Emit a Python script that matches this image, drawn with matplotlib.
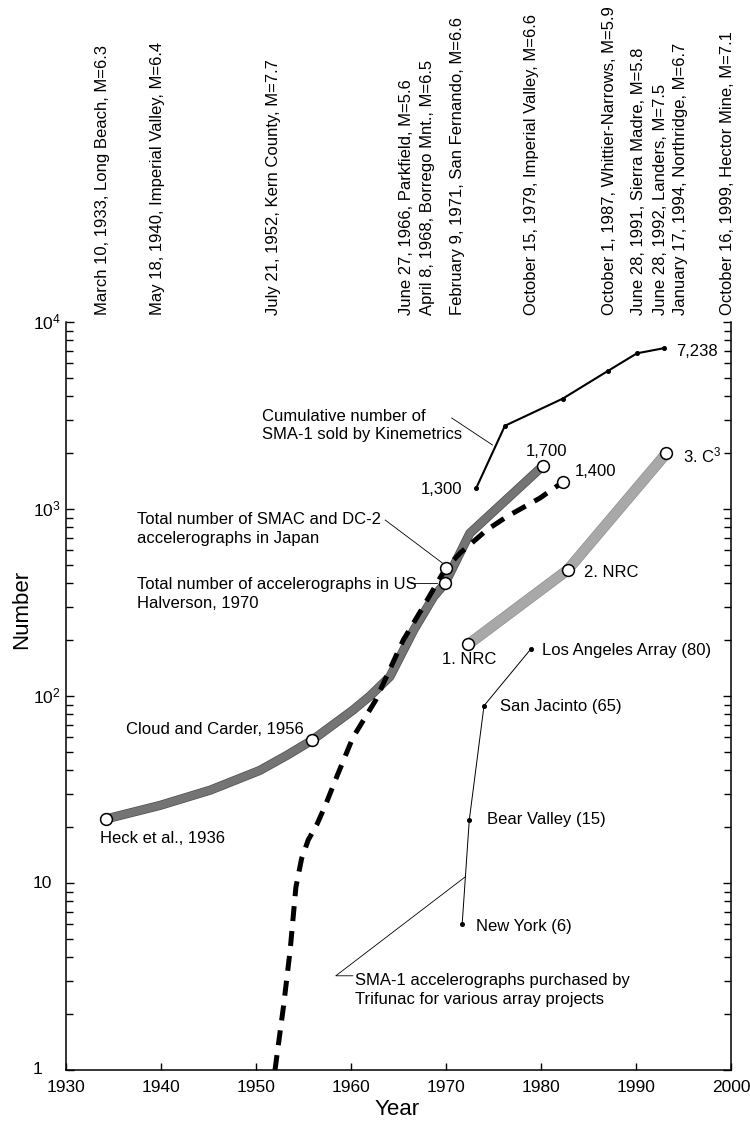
import matplotlib
matplotlib.use("Agg")
import matplotlib.pyplot as plt
import matplotlib.patheffects as pe
import matplotlib.transforms as mtransforms
from matplotlib.ticker import LogLocator, NullFormatter, FixedLocator

plt.rcParams['font.family'] = ['Liberation Sans', 'DejaVu Sans']
plt.rcParams['mathtext.fontset'] = 'custom'
plt.rcParams['mathtext.rm'] = 'Liberation Sans'
plt.rcParams['mathtext.it'] = 'Liberation Sans:italic'
plt.rcParams['mathtext.bf'] = 'Liberation Sans:bold'

# ---------------- data ----------------
# Total number of accelerographs in US (dark gray band)
us_year = [1934.2, 1939.9, 1945.2, 1950.4, 1953.2, 1955.9, 1960.2, 1962.0,
           1964.1, 1966.6, 1968.7, 1969.9, 1972.5, 1980.2]
us_count = [22, 26, 31.4, 40, 48, 58, 84, 100, 127, 225, 340, 400, 741, 1700]
us_marked = [0, 5, 11, 13]

# SMAC and DC-2 accelerographs in Japan (dashed)
jp_year = [1952.0, 1952.9, 1953.6, 1954.2, 1954.8, 1955.5, 1956.4, 1957.3,
           1958.5, 1960.2, 1962.6, 1965.5, 1967.6, 1969.97, 1971.5, 1974.3,
           1976.4, 1979.9, 1982.35]
jp_count = [1.0, 2.2, 4.4, 9.5, 13.5, 17, 20.5, 26, 37, 60, 95, 199, 300,
            482, 582, 773, 910, 1145, 1400]
jp_marked = [13, 18]

# Cumulative SMA-1 sold by Kinemetrics
km_year = [1973.2, 1976.2, 1982.3, 1987.1, 1990.1, 1992.9]
km_count = [1300, 2786, 3895, 5496, 6800, 7238]

# NRC / C^3 (light gray band)
nrc_year = [1972.35, 1982.8, 1993.2]
nrc_count = [189, 472, 1986]

# SMA-1 accelerographs purchased by Trifunac (cumulative)
tr_year = [1971.7, 1972.45, 1974.0, 1978.9]
tr_count = [6, 21.7, 88.7, 177.6]

# Earthquakes listed along the top
eq_labels = [
    "March 10, 1933, Long Beach, M=6.3",
    "May 18, 1940, Imperial Valley, M=6.4",
    "July 21, 1952, Kern County, M=7.7",
    "June 27, 1966, Parkfield, M=5.6",
    "April 8, 1968, Borrego Mnt., M=6.5",
    "February 9, 1971, San Fernando, M=6.6",
    "October 15, 1979, Imperial Valley, M=6.6",
    "October 1, 1987, Whittier-Narrows, M=5.9",
    "June 28, 1991, Sierra Madre, M=5.8",
    "June 28, 1992, Landers, M=7.5",
    "January 17, 1994, Northridge, M=6.7",
    "October 16, 1999, Hector Mine, M=7.1",
]
eq_label_year = [1933.8, 1939.6, 1951.8, 1965.8, 1968.1, 1971.2, 1979.0,
                 1987.2, 1990.3, 1992.6, 1994.7, 1999.6]

x_ticks = [1930, 1940, 1950, 1960, 1970, 1980, 1990, 2000]
y_ticks = [1, 10, 100, 1000, 10000]
y_tick_labels = ['1', '10', r'$\mathregular{10^2}$', r'$\mathregular{10^3}$',
                 r'$\mathregular{10^4}$']

# ---------------- figure ----------------
fig = plt.figure(figsize=(7.5, 11.21), dpi=100)
ax = fig.add_axes([66 / 750, 51 / 1121, 665 / 750, 748 / 1121])
ax.set_yscale('log')
ax.set_xlim(1930, 2000)
ax.set_ylim(1, 1e4)

# US band
ax.plot(us_year, us_count, color='#747474', lw=5.6, solid_capstyle='butt',
        solid_joinstyle='round', zorder=2,
        path_effects=[pe.Stroke(linewidth=6.6, foreground='#4f4f4f'), pe.Normal()])
ax.plot([us_year[i] for i in us_marked], [us_count[i] for i in us_marked], 'o',
        mfc='white', mec='black', ms=8.5, mew=1.1, zorder=6)

# NRC band
ax.plot(nrc_year, nrc_count, color='#a8a8a8', lw=7.0, solid_capstyle='butt',
        zorder=2,
        path_effects=[pe.Stroke(linewidth=7.8, foreground='#8a8a8a'), pe.Normal()])
ax.plot(nrc_year, nrc_count, 'o', mfc='white', mec='black', ms=8.5, mew=1.1, zorder=6)

# Japan dashed
ax.plot(jp_year, jp_count, color='black', lw=3.6, ls=(0, (3, 2)),
        dash_capstyle='butt', solid_joinstyle='round', zorder=3)
ax.plot([jp_year[i] for i in jp_marked], [jp_count[i] for i in jp_marked], 'o',
        mfc='white', mec='black', ms=8.5, mew=1.1, zorder=6)

# Kinemetrics
ax.plot(km_year, km_count, color='black', lw=1.5, marker='o', ms=2.6, zorder=4)

# Trifunac
ax.plot(tr_year, tr_count, color='black', lw=0.7, marker='o', ms=2.6, zorder=4)

# ---------------- axes styling ----------------
ax.spines['top'].set_visible(False)
for s in ['left', 'right', 'bottom']:
    ax.spines[s].set_linewidth(1.1)
ax.xaxis.set_major_locator(FixedLocator(x_ticks))
ax.set_xticklabels([str(v) for v in x_ticks])
ax.yaxis.set_major_locator(FixedLocator(y_ticks))
ax.set_yticklabels([''] * len(y_ticks))
ax.yaxis.set_minor_locator(LogLocator(base=10, subs=range(2, 10)))
ax.yaxis.set_minor_formatter(NullFormatter())
ax.tick_params(axis='x', which='major', direction='in', length=5, width=1,
               top=False, bottom=True, labelsize=12.5, pad=7)
ax.tick_params(axis='y', which='both', direction='in', left=True, right=True,
               width=1)
ax.tick_params(axis='y', which='major', length=6)
ax.tick_params(axis='y', which='minor', length=5)

ytrans = mtransforms.blended_transform_factory(ax.transAxes, ax.transData)
for v, lab in zip(y_ticks, y_tick_labels):
    ax.text(-0.0496, v, lab, transform=ytrans, ha='left', va='center',
            fontsize=12.5, clip_on=False)

ax.text(0.498, -0.053, 'Year', transform=ax.transAxes, ha='center', va='center',
        fontsize=16)
ax.text(-0.066, 0.616, 'Number', transform=ax.transAxes, ha='center', va='center',
        rotation=90, fontsize=16)

# ---------------- top earthquake labels ----------------
for lab, yr in zip(eq_labels, eq_label_year):
    ax.annotate(lab, xy=(yr, 1.0), xycoords=('data', 'axes fraction'),
                xytext=(0, 5), textcoords='offset points', rotation=90,
                ha='center', va='bottom', fontsize=12.0, annotation_clip=False)

# ---------------- annotations ----------------
fs = 12
ax.text(1971.7, 1264, '1,300', ha='right', va='center', fontsize=fs)
ax.text(1980.6, 2018, '1,700', ha='center', va='center', fontsize=fs)
ax.text(1983.6, 1578, '1,400', ha='left', va='center', fontsize=fs)
ax.text(1994.2, 6918, '7,238', ha='left', va='center', fontsize=fs)
ax.text(1994.9, 1945, r'3. C$^{\mathregular{3}}$', ha='left', va='center', fontsize=fs)
ax.text(1984.5, 455, '2. NRC', ha='left', va='center', fontsize=fs)
ax.text(1972.4, 156, '1. NRC', ha='center', va='center', fontsize=fs)
ax.text(1980.1, 176, 'Los Angeles Array (80)', ha='left', va='center', fontsize=fs)
ax.text(1975.7, 87.7, 'San Jacinto (65)', ha='left', va='center', fontsize=fs)
ax.text(1974.3, 21.9, 'Bear Valley (15)', ha='left', va='center', fontsize=fs)
ax.text(1973.2, 5.84, 'New York (6)', ha='left', va='center', fontsize=fs)
ax.text(1955.0, 66.4, 'Cloud and Carder, 1956', ha='right', va='center', fontsize=fs)
ax.text(1933.6, 17.3, 'Heck et al., 1936', ha='left', va='center', fontsize=fs)

ax.text(1950.6, 2797, 'Cumulative number of\nSMA-1 sold by Kinemetrics',
        ha='left', va='center', fontsize=fs, linespacing=1.3)
ax.plot([1970.6, 1974.9], [3067, 2198], color='black', lw=0.6)

ax.text(1937.5, 782, 'Total number of SMAC and DC-2\naccelerographs in Japan',
        ha='left', va='center', fontsize=fs, linespacing=1.3)
ax.plot([1963.6, 1969.6], [873, 515], color='black', lw=0.6)

ax.text(1937.5, 351, 'Total number of accelerographs in US\nHalverson, 1970',
        ha='left', va='center', fontsize=fs, linespacing=1.3)
ax.plot([1966.3, 1969.1], [400, 400], color='black', lw=0.6)

ax.text(1960.4, 2.68, 'SMA-1 accelerographs purchased by\nTrifunac for various array projects',
        ha='left', va='center', fontsize=fs, linespacing=1.3)
ax.plot([1960.2, 1958.4, 1972.04], [3.19, 3.19, 10.8], color='black', lw=0.6)

fig.savefig('out.png', dpi=100)
